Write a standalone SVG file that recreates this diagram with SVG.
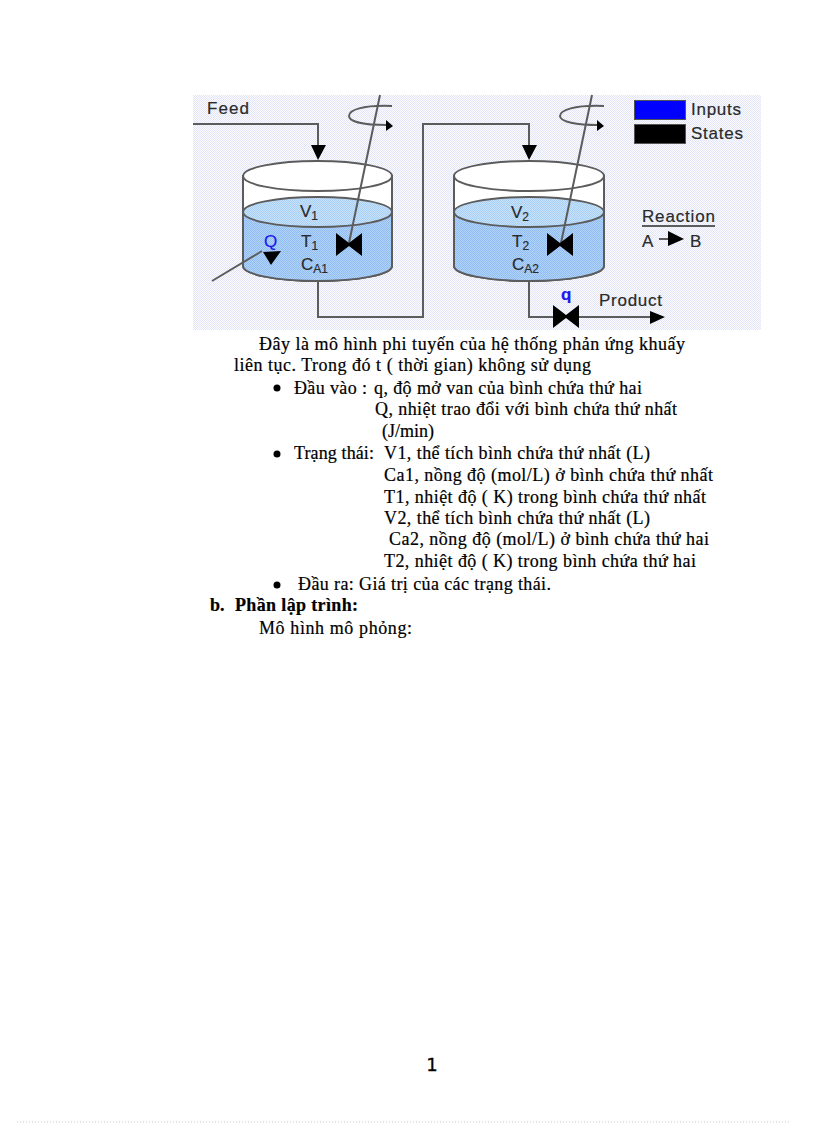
<svg xmlns="http://www.w3.org/2000/svg" width="816" height="1123" viewBox="0 0 816 1123">
<style>
.body{font-family:"Liberation Serif","Times New Roman",serif;font-size:18px;fill:#000;stroke:#000;stroke-width:.2}
.lab{font-family:"Liberation Sans",Arial,sans-serif;font-size:17px;fill:#2a2a2a;stroke:#2a2a2a;stroke-width:.2}
.sub{font-size:12px}
.blue{fill:#1a1aee;stroke:#1a1aee}
.ln{fill:none;stroke:#5c5c5c;stroke-width:2}
.tank{stroke:#5c5c5c;stroke-width:2}
.blk{fill:#000}
</style>
<defs>
<pattern id="bg" width="2" height="2" patternUnits="userSpaceOnUse"><rect width="2" height="2" fill="#fbfbff"/><rect width="1" height="1" fill="#e2e6f6"/><rect x="1" y="1" width="1" height="1" fill="#e2e6f6"/></pattern>
<pattern id="liq" width="2" height="2" patternUnits="userSpaceOnUse"><rect width="2" height="2" fill="#b0d4f8"/><rect width="1" height="1" fill="#92bcf2"/><rect x="1" y="1" width="1" height="1" fill="#92bcf2"/></pattern>
<pattern id="liqtop" width="2" height="2" patternUnits="userSpaceOnUse"><rect width="2" height="2" fill="#c6e2fb"/><rect width="1" height="1" fill="#aad0f6"/><rect x="1" y="1" width="1" height="1" fill="#aad0f6"/></pattern>
</defs>
<rect width="816" height="1123" fill="#fff"/>
<rect id="figure-background" x="193" y="95" width="568" height="235" fill="url(#bg)"/>
<g id="tank1">
<path class="tank" d="M243 176V266A74.500 15 0 0 0 392 266V176Z" fill="#fff"/>
<path class="tank" d="M243 212V266A74.500 15 0 0 0 392 266V212Z" fill="url(#liq)"/>
<ellipse class="tank" cx="317.500" cy="212" rx="74.500" ry="15" fill="url(#liqtop)"/>
<ellipse class="tank" cx="317.500" cy="176" rx="74.500" ry="15" fill="#fff"/>
<text class="lab" x="300" y="217">V<tspan class="sub" dy="3">1</tspan></text>
<text class="lab" x="301" y="247">T<tspan class="sub" dy="3">1</tspan></text>
<text class="lab" x="301" y="270">C<tspan class="sub" dy="3">A1</tspan></text>
</g>
<g id="tank2">
<path class="tank" d="M454 176V266A75 15 0 0 0 604 266V176Z" fill="#fff"/>
<path class="tank" d="M454 212V266A75 15 0 0 0 604 266V212Z" fill="url(#liq)"/>
<ellipse class="tank" cx="529" cy="212" rx="75" ry="15" fill="url(#liqtop)"/>
<ellipse class="tank" cx="529" cy="176" rx="75" ry="15" fill="#fff"/>
<text class="lab" x="511" y="218">V<tspan class="sub" dy="3">2</tspan></text>
<text class="lab" x="512" y="247">T<tspan class="sub" dy="3">2</tspan></text>
<text class="lab" x="512" y="270">C<tspan class="sub" dy="3">A2</tspan></text>
</g>
<g id="connectors">
<path class="ln" d="M193 124H318V146"/>
<path class="ln" d="M318 281V317H423V124H529V146"/>
<path class="ln" d="M529 281V317H553"/>
<path class="ln" d="M579 317H652"/>
<path class="ln" d="M212 281L262 251"/>
<path class="ln" d="M380 95L349 243"/>
<path class="ln" d="M592 95L561 243"/>
<path class="ln" d="M392 106C362 105 349 110 349 116C349 122 365 125 387 125"/>
<path class="ln" d="M604 106C574 105 560 110 560 116C560 122 577 125 598 125"/>
<path class="ln" d="M659 239H669"/>
<polygon class="blk" points="311,145 326,145 318,160"/>
<polygon class="blk" points="522,145 537,145 529,160"/>
<polygon class="blk" points="650,311 665,317 650,324"/>
<polygon class="blk" points="263,252 281,251 271,265"/>
<polygon class="blk" points="386,120 393,126 386,131"/>
<polygon class="blk" points="597,120 604,126 597,131"/>
<polygon class="blk" points="668,231 684,239 668,246"/>
</g>
<g id="valve1"><polygon class="blk" points="336,233 349,243 362,233 362,256 349,246 336,256"/></g>
<g id="valve2"><polygon class="blk" points="547,233 560,243 573,233 573,256 560,246 547,256"/></g>
<g id="valve3"><polygon class="blk" points="553,305 566,315 579,305 579,328 566,318 553,328"/></g>
<g id="feed-label"><text class="lab" x="207" y="114" textLength="42">Feed</text></g>
<g id="Q-label"><text class="lab blue" x="264" y="247" font-size="17">Q</text></g>
<g id="q-label"><text class="lab blue" x="561" y="300" font-weight="bold">q</text></g>
<g id="product-label"><text class="lab" x="599" y="306" textLength="63">Product</text></g>
<g id="legend">
<rect x="634.500" y="100.500" width="51" height="19" fill="#0000ff" stroke="#555"/>
<rect x="634.500" y="124.500" width="51" height="19" fill="#000" stroke="#555"/>
<text class="lab" x="691" y="115" textLength="50">Inputs</text>
<text class="lab" x="691" y="139" textLength="52">States</text>
</g>
<g id="reaction">
<text class="lab" x="642" y="222" textLength="73">Reaction</text>
<path class="ln" d="M642 226H715"/>
<text class="lab" x="642" y="247">A</text>
<text class="lab" x="690" y="247">B</text>
</g>
<g id="page-text">
<text class="body" x="259" y="350" textLength="426">Đây là mô hình phi tuyến của hệ thống phản ứng khuấy</text>
<text class="body" x="234" y="371" textLength="357">liên tục. Trong đó t ( thời gian) không sử dụng</text>
<circle cx="277" cy="388" r="3.500"/>
<text class="body" x="294" y="394" textLength="73">Đầu vào :</text>
<text class="body" x="374" y="394" textLength="268">q, độ mở van của bình chứa thứ hai</text>
<text class="body" x="375" y="415" textLength="302">Q, nhiệt trao đổi với bình chứa thứ nhất</text>
<text class="body" x="382" y="437" textLength="52">(J/min)</text>
<circle cx="277" cy="454" r="3.500"/>
<text class="body" x="294" y="459" textLength="80">Trạng thái:</text>
<text class="body" x="384" y="459" textLength="266">V1, thể tích bình chứa thứ nhất (L)</text>
<text class="body" x="384" y="481" textLength="329">Ca1, nồng độ (mol/L) ở bình chứa thứ nhất</text>
<text class="body" x="384" y="503" textLength="322">T1, nhiệt độ ( K) trong bình chứa thứ nhất</text>
<text class="body" x="384" y="524" textLength="266">V2, thể tích bình chứa thứ nhất (L)</text>
<text class="body" x="389" y="545" textLength="320">Ca2, nồng độ (mol/L) ở bình chứa thứ hai</text>
<text class="body" x="384" y="567" textLength="312">T2, nhiệt độ ( K) trong bình chứa thứ hai</text>
<circle cx="277" cy="585" r="3.500"/>
<text class="body" x="298" y="590" textLength="253">Đầu ra: Giá trị của các trạng thái.</text>
<text class="body" x="210" y="611" font-weight="bold">b.</text>
<text class="body" x="235" y="611" font-weight="bold" textLength="123">Phần lập trình:</text>
<text class="body" x="259" y="634" textLength="153">Mô hình mô phỏng:</text>
<text x="432" y="1071" text-anchor="middle" font-family="'DejaVu Sans',sans-serif" font-size="18" fill="#000" stroke="#000" stroke-width=".3">1</text>
</g>
<path id="page-edge" d="M17 1122H790" stroke="#ccc" stroke-width="1" stroke-dasharray="1 2" fill="none"/>
</svg>
